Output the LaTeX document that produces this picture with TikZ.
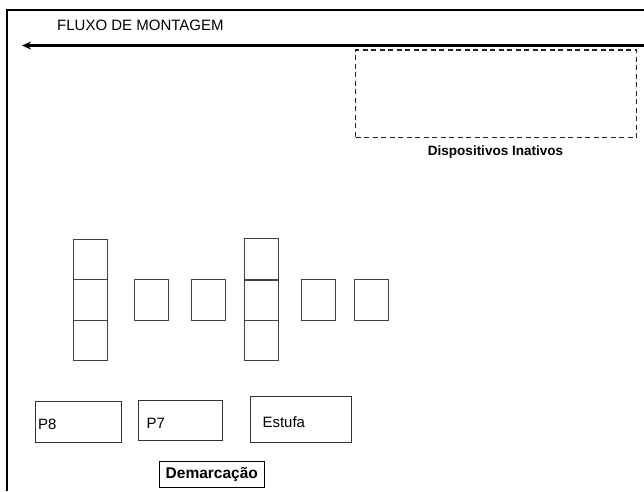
\documentclass[tikz,border=0pt]{standalone}
\usepackage{fontspec}
\setmainfont{Liberation Sans}
\usetikzlibrary{arrows.meta}
\tikzset{
  cell/.style={draw=black!75, line width=0.9pt, fill=none, inner sep=0pt,
    minimum width=34pt, minimum height=40.5pt},
  station/.style={draw=black!80, line width=0.9pt, inner sep=0pt},
  lbl/.style={inner sep=0pt, anchor=west, font=\fontsize{15}{17}\selectfont},
  frame/.style={line width=2pt, black},
}
\begin{document}
\begin{tikzpicture}[x=1pt,y=-1pt]
\useasboundingbox (0,0) rectangle (644,491);
\fill[white] (0,0) rectangle (644,491);

% outer frame (top and left edges)
\coordinate (fl) at (6.5,491);
\coordinate (ftl) at (6.5,10);
\coordinate (ftr) at (644,10);
\draw[frame] (fl) -- (ftl) -- (ftr);

% assembly flow arrow
\node[anchor=west, inner sep=0pt, font=\fontsize{15}{17}\selectfont] (fluxo) at (57,25) {FLUXO DE MONTAGEM};
\coordinate (arrS) at (644,45.5);
\coordinate (arrE) at (22,45.5);
\draw[line width=2.6pt, -{Stealth[length=9pt,width=8pt]}] (arrS) -- (arrE);

% inactive devices area
\node[draw=black!85, line width=1.2pt, dash pattern=on 5pt off 3.5pt, inner sep=0pt,
      minimum width=281pt, minimum height=87.5pt] (inat) at (496.2,93.8) {};
\node[inner sep=0pt, font=\bfseries\fontsize{13.5}{15}\selectfont] (inatlbl) at (495.5,152) {Dispositivos Inativos};

% first stack of three cells
\node[cell] (s1a) at (90.3,259.6) {};
\node[cell] (s1b) at (90.3,300) {};
\node[cell] (s1c) at (90.3,340.2) {};
% single cells
\node[cell, minimum height=40.7pt] (c1) at (151.5,299.7) {};
\node[cell, minimum height=40.7pt] (c2) at (208.8,299.7) {};
% second stack of three cells
\node[cell, minimum height=41.4pt] (s2a) at (261.3,259.3) {};
\node[cell] (s2b) at (261.3,300) {};
\node[cell] (s2c) at (261.3,340.2) {};
% single cells
\node[cell, minimum height=40.7pt] (c3) at (318.5,299.7) {};
\node[cell, minimum height=40.7pt] (c4) at (371.2,299.7) {};

% stations
\node[station, minimum width=86pt, minimum height=40.5pt] (p8) at (78,421.8) {};
\node[lbl] (p8t) at (38,424.5) {P8};
\node[station, minimum width=84pt, minimum height=40pt] (p7) at (180.3,420.8) {};
\node[lbl] (p7t) at (146.5,423.5) {P7};
\node[station, minimum width=101pt, minimum height=46pt] (estufa) at (300.5,419) {};
\node[lbl] (estt) at (262.3,422) {Estufa};

% demarcation label
\node[draw=black, line width=0.9pt, inner sep=0pt, minimum width=105pt, minimum height=25.6pt,
      font=\bfseries\fontsize{15.5}{17}\selectfont] (dem) at (211.8,474.5) {Demarcação};
\end{tikzpicture}
\end{document}
